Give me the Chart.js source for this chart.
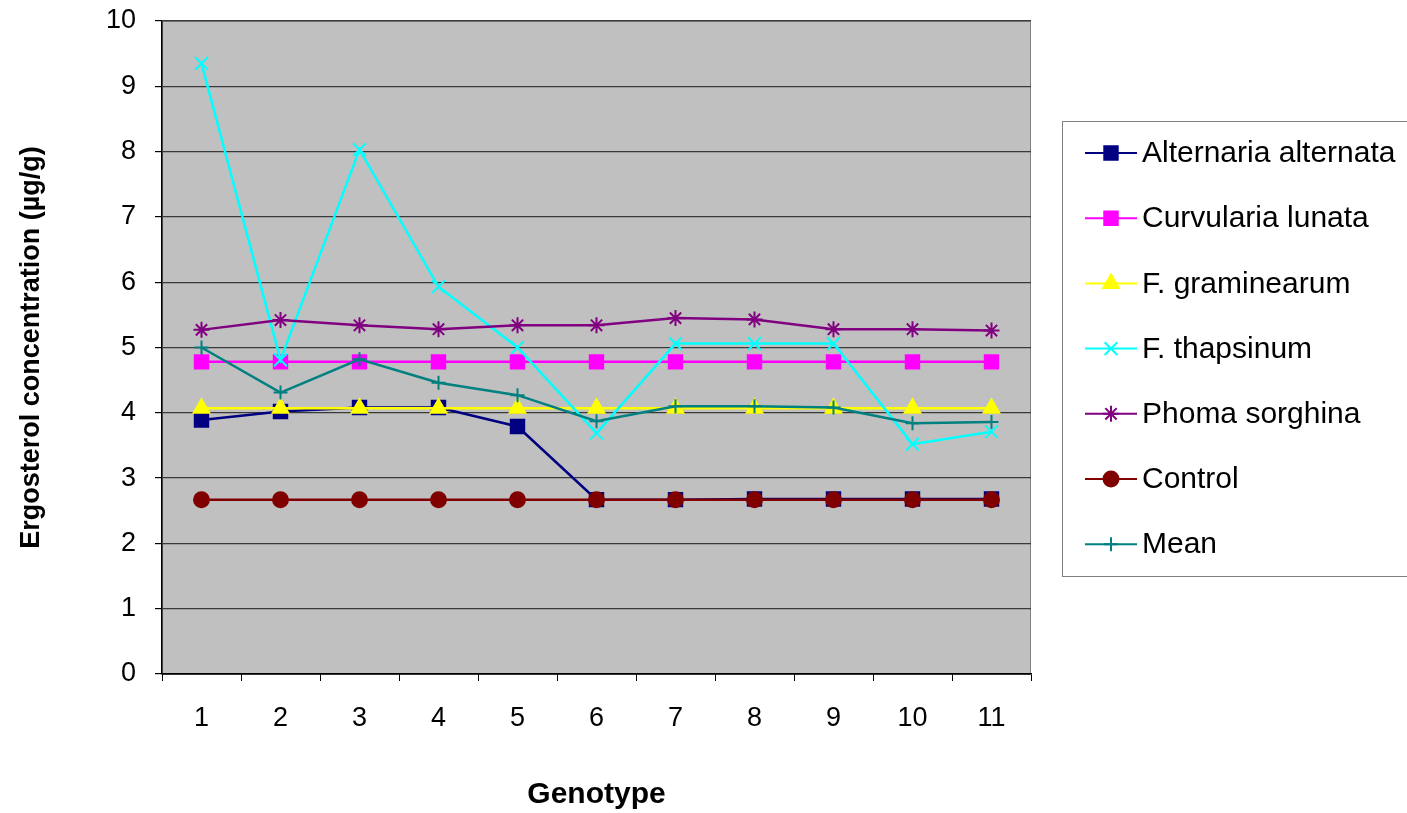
<!DOCTYPE html>
<html>
<head>
<meta charset="utf-8">
<script src="https://cdn.jsdelivr.net/npm/chart.js@4/dist/chart.umd.min.js"></script>
<style>
  html, body { margin: 0; padding: 0; background: #fff; }
  #wrap { width: 1407px; height: 813px; }
</style>
</head>
<body>
<div id="wrap"><canvas id="ergoChart" width="1407" height="813"></canvas></div>
<script>
// Values
const genotypes = ['1', '2', '3', '4', '5', '6', '7', '8', '9', '10', '11'];
const yTicks = [0, 1, 2, 3, 4, 5, 6, 7, 8, 9, 10];

const alternaria = [3.89, 4.02, 4.08, 4.08, 3.79, 2.67, 2.67, 2.68, 2.68, 2.68, 2.68];
const curvularia = [4.78, 4.78, 4.78, 4.78, 4.78, 4.78, 4.78, 4.78, 4.78, 4.78, 4.78];
const graminearum = [4.07, 4.07, 4.07, 4.07, 4.07, 4.07, 4.07, 4.07, 4.07, 4.07, 4.07];
const thapsinum = [9.35, 4.81, 8.03, 5.93, 5.0, 3.69, 5.06, 5.06, 5.06, 3.52, 3.71];
const phoma = [5.27, 5.42, 5.34, 5.28, 5.34, 5.34, 5.45, 5.43, 5.28, 5.28, 5.26];
const control = [2.67, 2.67, 2.67, 2.67, 2.67, 2.67, 2.67, 2.67, 2.67, 2.67, 2.67];
const mean = [5.0, 4.31, 4.82, 4.46, 4.27, 3.87, 4.10, 4.10, 4.08, 3.84, 3.86];

const seriesNames = ['Alternaria alternata', 'Curvularia lunata', 'F. graminearum',
  'F. thapsinum', 'Phoma sorghina', 'Control', 'Mean'];
const seriesData = [alternaria, curvularia, graminearum, thapsinum, phoma, control, mean];
const seriesColors = ['#000080', '#FF00FF', '#FFFF00', '#00FFFF', '#800080', '#800000', '#008080'];
const seriesMarkers = ['rect', 'rect', 'triangle', 'crossRot', 'star', 'circle', 'cross'];
const markerSizes = [9.5, 9.5, 9, 9, 8, 7.5, 7];

const FONT = "'Liberation Sans', Arial, sans-serif";

// grey plot background + plot border
const plotBackground = {
  id: 'plotBackground',
  beforeDraw(chart) {
    const { ctx, chartArea: a } = chart;
    ctx.save();
    ctx.fillStyle = '#C0C0C0';
    ctx.fillRect(a.left, a.top, a.right - a.left, a.bottom - a.top);
    ctx.strokeStyle = '#808080';
    ctx.lineWidth = 1;
    ctx.strokeRect(a.left + 0.5, a.top + 0.5, a.right - a.left - 1, a.bottom - a.top);
    ctx.restore();
  }
};

// Excel style legend box on the right
const sideLegend = {
  id: 'sideLegend',
  afterDraw(chart) {
    const { ctx } = chart;
    const boxX = 1062, boxY = 121, boxW = 350, boxH = 455;
    ctx.save();
    ctx.fillStyle = '#fff';
    ctx.fillRect(boxX, boxY, boxW, boxH);
    ctx.strokeStyle = '#808080';
    ctx.lineWidth = 1;
    ctx.strokeRect(boxX + 0.5, boxY + 0.5, boxW, boxH);
    chart.data.datasets.forEach((ds, i) => {
      const y = 153 + i * 65.2;
      ctx.strokeStyle = ds.borderColor;
      ctx.lineWidth = 2;
      ctx.beginPath();
      ctx.moveTo(1085, y);
      ctx.lineTo(1137, y);
      ctx.stroke();
      ctx.fillStyle = ds.borderColor;
      ctx.strokeStyle = ds.borderColor;
      Chart.helpers.drawPoint(ctx, {
        pointStyle: ds.pointStyle,
        radius: ds.pointRadius,
        borderWidth: 2,
        rotation: 0
      }, 1111, y);
      ctx.fillStyle = '#000';
      ctx.font = '30px ' + FONT;
      ctx.textAlign = 'left';
      ctx.textBaseline = 'middle';
      ctx.fillText(ds.label, 1142, y + 1);
    });
    ctx.restore();
  }
};

const datasets = seriesNames.map((name, i) => ({
  label: name,
  data: seriesData[i],
  borderColor: seriesColors[i],
  backgroundColor: seriesColors[i],
  pointBackgroundColor: seriesColors[i],
  pointBorderColor: seriesColors[i],
  pointStyle: seriesMarkers[i],
  pointRadius: markerSizes[i],
  pointBorderWidth: 2,
  borderWidth: 2.5,
  tension: 0,
  order: seriesNames.length - i
}));

new Chart(document.getElementById('ergoChart'), {
  type: 'line',
  data: { labels: genotypes, datasets: datasets },
  options: {
    responsive: false,
    animation: false,
    layout: { padding: { left: 0, right: 376, top: 21, bottom: 0 } },
    plugins: {
      legend: { display: false },
      tooltip: { enabled: false }
    },
    scales: {
      x: {
        type: 'category',
        offset: true,
        afterFit: s => { s.height = 139; s.paddingLeft = 0; s.paddingRight = 0; },
        grid: {
          offset: true,
          drawOnChartArea: false,
          drawTicks: true,
          tickLength: 7,
          color: '#000',
          tickColor: '#000'
        },
        border: { color: '#000', width: 1.5 },
        ticks: {
          color: '#000',
          font: { family: FONT, size: 27 },
          padding: 21,
          maxRotation: 0
        },
        title: {
          display: true,
          text: 'Genotype',
          color: '#000',
          font: { family: FONT, size: 30, weight: 'bold' },
          padding: { top: 0, bottom: 0 }
        }
      },
      y: {
        min: yTicks[0],
        max: yTicks[yTicks.length - 1],
        afterFit: s => { s.width = 162; s.paddingTop = 0; s.paddingBottom = 0; },
        afterBuildTicks: s => { s.ticks = yTicks.map(v => ({ value: v })); },
        grid: {
          color: ctx => ctx.tick && ctx.tick.value === 0 ? '#000' : '#3a3a3a',
          lineWidth: 1.2,
          drawTicks: true,
          tickLength: 7,
          tickColor: '#000'
        },
        border: { color: '#000', width: 1.5 },
        ticks: {
          color: '#000',
          font: { family: FONT, size: 27 },
          padding: 19
        },
        title: {
          display: true,
          text: 'Ergosterol concentration (µg/g)',
          color: '#000',
          font: { family: FONT, size: 27, weight: 'bold' },
          padding: { top: 15, bottom: 0 }
        }
      }
    }
  },
  plugins: [plotBackground, sideLegend]
});
</script>
</body>
</html>
